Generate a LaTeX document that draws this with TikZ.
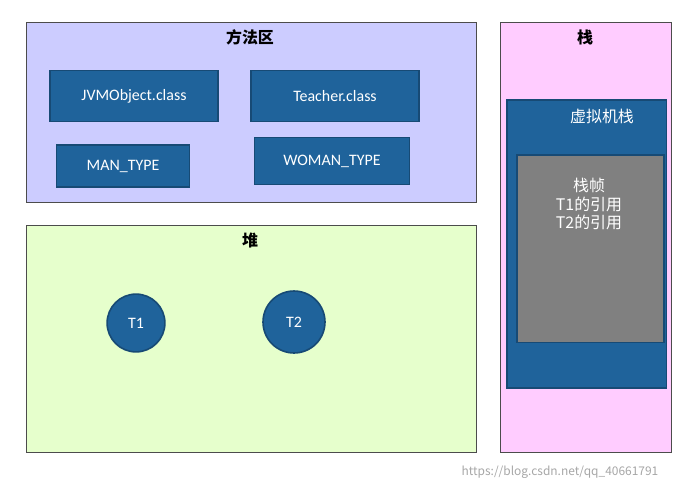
\documentclass[tikz,border=0pt]{standalone}
\usepackage{fontspec}
\setmainfont{Carlito}
\newfontfamily\cjk{Noto Sans CJK SC}
\definecolor{methodbg}{HTML}{CCCCFF}
\definecolor{heapbg}{HTML}{E6FFCC}
\definecolor{stackbg}{HTML}{FFCCFF}
\definecolor{jblue}{HTML}{1F639B}
\definecolor{jedge}{HTML}{174A75}
\begin{document}
\begin{tikzpicture}[x=0.02646cm, y=-0.02646cm,
    area/.style={rectangle, draw=black!70, thick, anchor=north west, inner sep=0pt},
    cls/.style={rectangle, draw=jedge, very thick, fill=jblue, text=white, font=\large, inner sep=0pt},
    obj/.style={circle, draw=jedge, very thick, fill=jblue, text=white, font=\large, inner sep=0pt},
    title/.style={font=\cjk\bfseries\large}
]
    \useasboundingbox (0,0) rectangle (687,492);
    % Method area
    \node[area, fill=methodbg, minimum width=450\pgflinewidth*0+11.9cm, minimum height=4.76cm] (method) at (26,22) {};
    \node[title] (methodtitle) at (250,37) {方法区};
    \node[cls, minimum width=4.45cm, minimum height=1.35cm] (jvmobj) at (134,96) {JVMObject.class};
    \node[cls, minimum width=4.45cm, minimum height=1.35cm] (teacher) at (335,96) {Teacher.class};
    \node[cls, minimum width=3.52cm, minimum height=1.11cm] (mantype) at (123,166) {MAN\_TYPE};
    \node[cls, minimum width=4.1cm, minimum height=1.24cm] (womantype) at (332,161) {WOMAN\_TYPE};
    % Heap
    \node[area, fill=heapbg, minimum width=11.9cm, minimum height=6.0cm] (heap) at (26,225) {};
    \node[title] (heaptitle) at (250,240) {堆};
    \node[obj, minimum size=1.53cm] (t1) at (136,323) {T1};
    \node[obj, minimum size=1.64cm] (t2) at (294,322) {T2};
    % Stack
    \node[area, fill=stackbg, minimum width=4.52cm, minimum height=11.38cm] (stack) at (500,22) {};
    \node[title] (stacktitle) at (585,37) {栈};
    \node[area, draw=jedge, very thick, fill=jblue, minimum width=4.23cm, minimum height=7.62cm] (vmstack) at (506,99) {};
    \node[font=\cjk\large, text=white] (vmtitle) at (602,116) {虚拟机栈};
    \node[area, draw=jedge, very thick, fill=black!50, minimum width=3.89cm, minimum height=4.97cm] (frame) at (516,154) {};
    \node[font=\cjk\large, text=white, align=center, inner sep=0pt] (frametext) at (589,204) {栈帧\\T1的引用\\T2的引用};
    % Watermark
    \node[text=black!35, font=\cjk\small] (mark) at (560,472) {https://blog.csdn.net/qq\_40661791};
\end{tikzpicture}
\end{document}
